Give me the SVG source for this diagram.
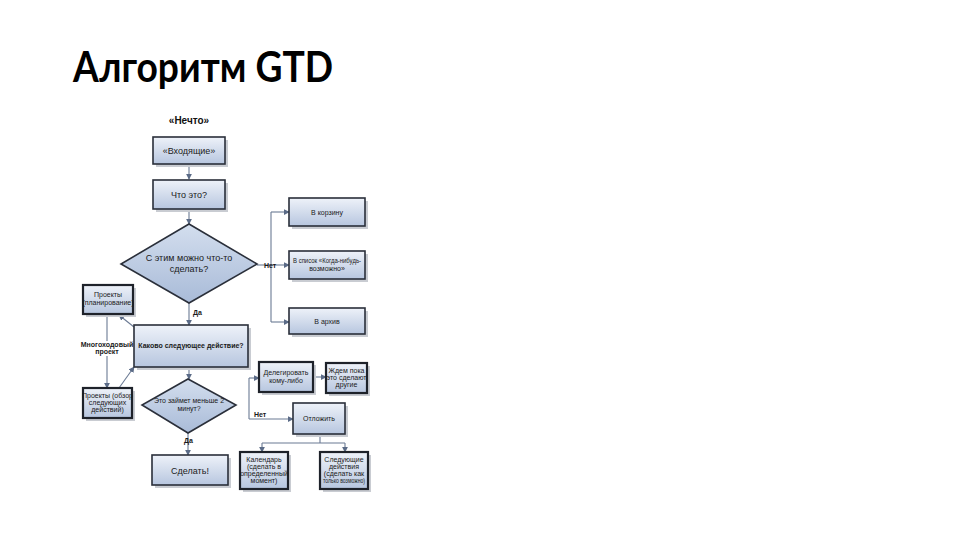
<svg xmlns="http://www.w3.org/2000/svg" width="960" height="540" viewBox="0 0 960 540">
<defs>
<linearGradient id="g" x1="0" y1="0" x2="0" y2="1">
<stop offset="0" stop-color="#eef2f9"/>
<stop offset="1" stop-color="#b7c6df"/>
</linearGradient>
<linearGradient id="gd" x1="0" y1="0" x2="0" y2="1">
<stop offset="0" stop-color="#d3deee"/>
<stop offset="1" stop-color="#a9bbd8"/>
</linearGradient>
<marker id="a" viewBox="0 0 8 8" refX="7" refY="4" markerWidth="6" markerHeight="6" orient="auto" markerUnits="userSpaceOnUse">
<path d="M0,0 L8,4 L0,8 z" fill="#5b6b87"/>
</marker>
</defs>
<style>
.title{font-family:Lato,"Open Sans","Liberation Sans",sans-serif;font-size:42px;font-weight:bold;fill:#000}
.box{fill:url(#g);stroke:#2a2f3a;stroke-width:1.6}
.box2{fill:url(#g);stroke:#1e222a;stroke-width:2.2}
.sh{fill:#c9ccd2}
.dia{fill:url(#gd);stroke:#2a2f3a;stroke-width:1.6}
.t{font-family:"Liberation Sans",Arial,sans-serif;font-size:7px;fill:#1a1a1a;text-anchor:middle}
.tm{font-family:"Liberation Sans",Arial,sans-serif;font-size:9px;fill:#1a1a1a;text-anchor:middle}
.tb{font-family:"Liberation Sans",Arial,sans-serif;font-size:10px;font-weight:bold;fill:#111;text-anchor:middle}
.lab{font-family:"Liberation Sans",Arial,sans-serif;font-size:7px;font-weight:bold;fill:#1a1a1a}
.c{fill:none;stroke:#6b7a94;stroke-width:1.1}
</style>
<rect width="960" height="540" fill="#fff"/>
<text class="title" x="73" y="82" textLength="260" lengthAdjust="spacingAndGlyphs">Алгоритм GTD</text>

<g id="connectors">
<path class="c" d="M189,164 V179" marker-end="url(#a)"/>
<path class="c" d="M189,209 V224" marker-end="url(#a)"/>
<path class="c" d="M257,265 H271"/>
<path class="c" d="M271,212 V322"/>
<path class="c" d="M271,212 H289" marker-end="url(#a)"/>
<path class="c" d="M271,265 H289" marker-end="url(#a)"/>
<path class="c" d="M271,322 H289" marker-end="url(#a)"/>
<path class="c" d="M189,303 V325" marker-end="url(#a)"/>
<path class="c" d="M134,327 L119,315" marker-end="url(#a)"/>
<path class="c" d="M107,314 V388" marker-end="url(#a)"/>
<path class="c" d="M119,388 L134,367" marker-end="url(#a)"/>
<path class="c" d="M189,367 V379" marker-end="url(#a)"/>
<path class="c" d="M188,433 V455" marker-end="url(#a)"/>
<path class="c" d="M249,378 V419"/>
<path class="c" d="M249,378 H259" marker-end="url(#a)"/>
<path class="c" d="M249,419 H293" marker-end="url(#a)"/>
<path class="c" d="M313,377 H326" marker-end="url(#a)"/>
<path class="c" d="M320,435 V443 M262,443 H345"/>
<path class="c" d="M262,443 V452" marker-end="url(#a)"/>
<path class="c" d="M345,443 V452" marker-end="url(#a)"/>
</g>

<g id="nechto"><text class="tb" x="189" y="124">«Нечто»</text></g>

<g id="vhodyaschie">
<rect class="sh" x="156" y="140" width="72" height="27"/>
<rect class="box" x="153" y="137" width="72" height="27"/>
<text class="tm" x="189" y="154">«Входящие»</text>
</g>

<g id="chto-eto">
<rect class="sh" x="156" y="183" width="72" height="29"/>
<rect class="box" x="153" y="180" width="72" height="29"/>
<text class="tm" x="189" y="198">Что это?</text>
</g>

<g id="mozhno">
<polygon class="dia" points="189,224 257,264 189,303 121,264"/>
<text class="tm" x="189" y="261">С этим можно что-то</text>
<text class="tm" x="189" y="272">сделать?</text>
</g>
<g id="lbl-net1"><text class="lab" x="264" y="268">Нет</text></g>

<g id="korzina">
<rect class="sh" x="292" y="201" width="76" height="28"/>
<rect class="box" x="289" y="198" width="76" height="28"/>
<text class="t" x="327" y="214.5">В корзину</text>
</g>

<g id="kogda-nibud">
<rect class="sh" x="292" y="254" width="76" height="28"/>
<rect class="box" x="289" y="251" width="76" height="28"/>
<text class="t" x="327" y="263" font-size="5.5" textLength="68" lengthAdjust="spacingAndGlyphs">В список «Когда-нибудь-</text>
<text class="t" x="327" y="271" font-size="5.5">возможно»</text>
</g>

<g id="arhiv">
<rect class="sh" x="292" y="311" width="76" height="26"/>
<rect class="box" x="289" y="308" width="76" height="26"/>
<text class="t" x="327" y="323.5">В архив</text>
</g>

<g id="lbl-da1"><text class="lab" x="193" y="315">Да</text></g>

<g id="sleduyuschee">
<rect class="sh" x="137" y="328" width="114" height="42"/>
<rect class="box" x="134" y="325" width="114" height="42"/>
<text class="t" x="191" y="348" font-size="7.5" font-weight="bold">Каково следующее действие?</text>
</g>

<g id="proekty-plan">
<rect class="sh" x="86" y="288" width="50" height="29"/>
<rect class="box2" x="83" y="285" width="50" height="29"/>
<text class="t" x="108" y="297" font-size="5.5">Проекты</text>
<text class="t" x="108" y="305" font-size="5.5">(планирование)</text>
</g>

<g id="lbl-mnogohod">
<rect x="85" y="341" width="45" height="15" fill="#fff"/>
<text class="t" x="107" y="347" font-size="5.3" font-weight="bold">Многоходовый</text>
<text class="t" x="107" y="354" font-size="5.3" font-weight="bold">проект</text>
</g>

<g id="proekty-obzor">
<rect class="sh" x="86" y="391" width="49" height="30"/>
<rect class="box2" x="83" y="388" width="49" height="30"/>
<text class="t" x="107.5" y="398" font-size="5.5">Проекты (обзор</text>
<text class="t" x="107.5" y="405" font-size="5.5">следующих</text>
<text class="t" x="107.5" y="412" font-size="5.5">действий)</text>
</g>

<g id="dve-minuty">
<polygon class="dia" points="188,379 236,405 188,433 142,405"/>
<text class="t" x="189" y="403" font-size="6">Это займет меньше 2</text>
<text class="t" x="189" y="411" font-size="6">минут?</text>
</g>

<g id="lbl-da2"><text class="lab" x="184" y="443">Да</text></g>

<g id="sdelat">
<rect class="sh" x="155" y="458" width="76" height="30"/>
<rect class="box" x="152" y="455" width="76" height="30"/>
<text class="tm" x="190" y="473.5" font-size="10">Сделать!</text>
</g>

<g id="lbl-net2"><text class="lab" x="254" y="417">Нет</text></g>

<g id="delegirovat">
<rect class="sh" x="262" y="365" width="54" height="30"/>
<rect class="box2" x="259" y="362" width="54" height="30"/>
<text class="t" x="286" y="375" font-size="6">Делегировать</text>
<text class="t" x="286" y="383" font-size="6">кому-либо</text>
</g>

<g id="zhdem">
<rect class="sh" x="329" y="366" width="41" height="30"/>
<rect class="box2" x="326" y="363" width="41" height="30"/>
<text class="t" x="346.5" y="372.5" font-size="5">Ждем пока</text>
<text class="t" x="346.5" y="379.5" font-size="5">это сделают</text>
<text class="t" x="346.5" y="386.5" font-size="5">другие</text>
</g>

<g id="otlozhit">
<rect class="sh" x="296" y="406" width="52" height="31"/>
<rect class="box" x="293" y="403" width="52" height="31"/>
<text class="t" x="319" y="421" font-size="6">Отложить</text>
</g>

<g id="kalendar">
<rect class="sh" x="243" y="455" width="48" height="37"/>
<rect class="box2" x="240" y="452" width="48" height="37"/>
<text class="t" x="264" y="462" font-size="5">Календарь</text>
<text class="t" x="264" y="469" font-size="5">(сделать в</text>
<text class="t" x="264" y="476" font-size="5">определенный</text>
<text class="t" x="264" y="483" font-size="5">момент)</text>
</g>

<g id="sled-deystviya">
<rect class="sh" x="323" y="455" width="48" height="37"/>
<rect class="box2" x="320" y="452" width="48" height="37"/>
<text class="t" x="344" y="462" font-size="5">Следующие</text>
<text class="t" x="344" y="469" font-size="5">действия</text>
<text class="t" x="344" y="476" font-size="5">(сделать как</text>
<text class="t" x="344" y="483" font-size="5" textLength="42" lengthAdjust="spacingAndGlyphs">только возможно)</text>
</g>
</svg>
